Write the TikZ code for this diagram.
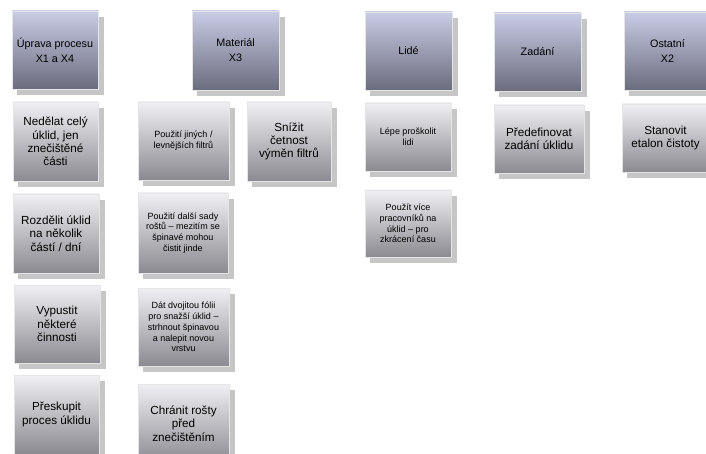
\documentclass[tikz,border=0pt]{standalone}
\usepackage{fontspec}
\setmainfont{Liberation Sans}
\definecolor{hdtop}{HTML}{C9CCE5}
\definecolor{hdbot}{HTML}{6B6C7E}
\definecolor{ittop}{HTML}{F0F0F4}
\definecolor{itbot}{HTML}{8A8A90}
\definecolor{shad}{HTML}{C6C6C6}
\tikzset{
  box/.style={draw=white!80!gray, line width=0.6pt, inner sep=0pt, align=center},
  shadowbox/.style={fill=shad},
  head/.style={box, top color=hdtop, bottom color=hdbot, font=\fontsize{10.8}{15}\selectfont},
  item/.style={box, top color=ittop, bottom color=itbot},
  big/.style={item, font=\fontsize{11.7}{13.4}\selectfont},
  small/.style={item, font=\fontsize{9}{10.8}\selectfont},
}
\newcommand\bx[7]{%
  \path[shadowbox] ({(#2)+5},{(#3)+6}) rectangle ({(#4)+6},{(#5)+6});
  \node[#6, minimum width={(#4)-(#2)}, minimum height={(#5)-(#3)}]
    (#1) at ({((#2)+(#4))/2},{((#3)+(#5))/2}) {#7};}
\begin{document}
\begin{tikzpicture}[x=1pt,y=-1pt]
\fill[white] (0,0) rectangle (706,454);
\useasboundingbox (0,0) rectangle (706,454);
\clip (0,0) rectangle (706,454);
% headers
\bx{h1}{12}{11}{98}{89}{head}{Úprava procesu\\X1 a X4}
\bx{h2}{192}{11}{279}{90}{head}{Materiál\\X3}
\bx{h3}{365}{12}{452}{90}{head}{Lidé}
\bx{h4}{494}{13}{581}{91}{head}{Zadání}
\bx{h5}{624}{12}{711}{90}{head}{Ostatní\\X2}
% column 1
\bx{a1}{13}{102}{98}{181}{big}{Nedělat celý\\úklid, jen\\znečištěné\\části}
\bx{a2}{13}{194}{99}{273}{big}{Rozdělit úklid\\na několik\\částí / dní}
\bx{a3}{14}{285}{100}{363}{big}{Vypustit\\některé\\činnosti}
\bx{a4}{14}{375}{99}{454}{big}{Přeskupit\\proces úklidu}
% column 2
\bx{b1}{138}{102}{229}{180}{small}{Použití jiných /\\levnějších filtrů}
\bx{b2}{138}{193}{228}{273}{small}{Použití další sady\\roštů – mezitím se\\špinavé mohou\\čistit jinde}
\bx{b3}{138}{288}{229}{366}{small}{Dát dvojitou fólii\\pro snažší úklid –\\strhnout špinavou\\a nalepit novou\\vrstvu}
\bx{b4}{138}{384}{229}{463}{big}{Chránit rošty\\před\\znečištěním}
% column 2b
\bx{c1}{247}{102}{331}{181}{big}{Snížit\\četnost\\výměn filtrů}
% column 3
\bx{d1}{365}{103}{451}{171}{small}{Lépe proškolit\\lidi}
\bx{d2}{365}{190}{451}{257}{small}{Použít více\\pracovníků na\\úklid – pro\\zkrácení času}
% column 4
\bx{e1}{494}{105}{584}{173}{big}{Předefinovat\\zadání úklidu}
% column 5
\bx{f1}{622}{104}{709}{172}{big}{Stanovit\\etalon čistoty}
\end{tikzpicture}
\end{document}
